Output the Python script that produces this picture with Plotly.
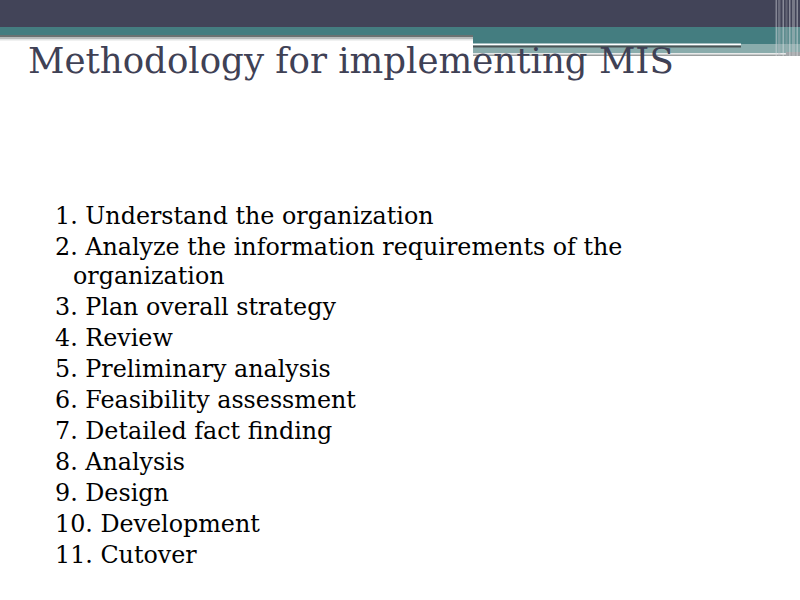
import plotly.graph_objects as go

title_text = "Methodology for implementing MIS"
items = [
    "1. Understand the organization",
    "2. Analyze the information requirements of the",
    "organization",
    "3. Plan overall strategy",
    "4. Review",
    "5. Preliminary analysis",
    "6. Feasibility assessment",
    "7. Detailed fact finding",
    "8. Analysis",
    "9. Design",
    "10. Development",
    "11. Cutover",
]
continuation = [False, False, True, False, False, False, False, False, False, False, False, False]

W, H = 800, 600
fig = go.Figure()
fig.update_layout(
    width=W, height=H, margin=dict(l=0, r=0, t=0, b=0),
    paper_bgcolor="white", plot_bgcolor="white", showlegend=False,
    xaxis=dict(range=[0, W], visible=False, fixedrange=True),
    yaxis=dict(range=[H, 0], visible=False, fixedrange=True),
)

def rect(x0, y0, x1, y1, color, opacity=1.0):
    fig.add_shape(type="rect", x0=x0, y0=y0, x1=x1, y1=y1, xref="x", yref="y",
                  fillcolor=color, line=dict(width=0), opacity=opacity, layer="below")

# header decoration
rect(0, 0, 800, 27, "#424458")
rect(0, 27, 776, 35, "#447D80")
rect(0, 35, 473, 37, "#6B7272")
rect(0, 37, 473, 39, "#B8BCBC")
rect(0, 39, 473, 40.5, "#E2E4E4")
rect(473, 35, 776, 44, "#447D80")
rect(776, 27, 800, 44, "#5E8E90")
rect(473, 44, 800, 53, "#8AACAC")
rect(473, 43.5, 741, 45.5, "#FFFFFF")
rect(473, 45.5, 741, 47.5, "#4A5556")
rect(473, 53, 786, 54.5, "#E8EAEA")
rect(473, 54.5, 786, 56, "#9A9E9E")
rect(786, 52, 800, 56, "#A0A4A6")
# right edge stripes
for x0, x1, c, op in [(775.5, 777, "#D8DAE0", 0.45), (778, 780.5, "#B8BBC2", 0.35),
                      (782.5, 784, "#E0E2E6", 0.45), (785.5, 787.5, "#B0B4BA", 0.3),
                      (789, 790.5, "#E0E2E6", 0.45), (792, 795, "#C8CBD0", 0.4),
                      (796.5, 798, "#E0E2E6", 0.45)]:
    rect(x0, 0, x1, 56, c, op)

fig.add_annotation(text=title_text, x=26, y=60, xref="x", yref="y",
                   xanchor="left", yanchor="middle", showarrow=False,
                   font=dict(family="DejaVu Serif", size=35.6, color="#3F4155"))

y = 216
for i, (t, c) in enumerate(zip(items, continuation)):
    if i > 0:
        y += 29.5 if c else 30.9
    fig.add_annotation(text=t, x=70.5 if c else 53, y=y, xref="x", yref="y",
                       xanchor="left", yanchor="middle", showarrow=False,
                       font=dict(family="DejaVu Serif", size=23.8, color="#000000"))

fig.write_html("out.html", config={"displayModeBar": False},
               post_script="document.body.style.margin='0';document.body.style.overflow='hidden';")
